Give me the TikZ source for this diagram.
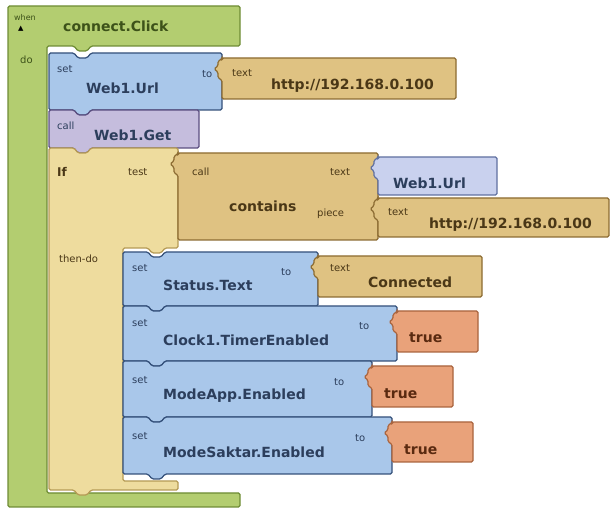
\documentclass[tikz,border=0pt]{standalone}
\usepackage{fontspec}
\setmainfont{DejaVu Sans}
\newfontfamily\symfont{DejaVu Sans}

\definecolor{evgreen}{HTML}{B3CD70}
\definecolor{evedge}{HTML}{6E8C35}
\definecolor{setblue}{HTML}{A9C7EA}
\definecolor{setedge}{HTML}{34507A}
\definecolor{callpurple}{HTML}{C5BDDD}
\definecolor{calledge}{HTML}{5B4E80}
\definecolor{ifbeige}{HTML}{EEDC9E}
\definecolor{ifedge}{HTML}{B59A55}
\definecolor{texttan}{HTML}{DFC282}
\definecolor{tanedge}{HTML}{8C6B32}
\definecolor{getlav}{HTML}{C9D1EE}
\definecolor{getedge}{HTML}{6070A0}
\definecolor{truesalmon}{HTML}{E9A27A}
\definecolor{trueedge}{HTML}{A9643E}
\definecolor{bluetext}{HTML}{2C3E5C}
\definecolor{tantext}{HTML}{4A3716}
\definecolor{greentext}{HTML}{3D5219}
\definecolor{truetext}{HTML}{5A2A10}

% statement block: style, x1, y1, x2, y2 (notch on top, tab below)
\newcommand{\stmtblock}[5]{%
  \draw[#1] (#2,#3) -- ({#2+25},#3) -- ({#2+29},{#3+5}) -- ({#2+38},{#3+5}) -- ({#2+42},#3)
    -- (#4,#3) -- (#4,#5) -- ({#2+42},#5) -- ({#2+38},{#5+5}) -- ({#2+29},{#5+5})
    -- ({#2+25},#5) -- (#2,#5) -- cycle;}
% value block: style, x1, y1, x2, y2 (plug on the left)
\newcommand{\valblock}[5]{%
  \draw[#1] (#2,#3) -- (#4,#3) -- (#4,#5) -- (#2,#5) -- (#2,{#3+22}) -- ({#2-4},{#3+20})
    -- ({#2-4},{#3+14}) -- ({#2-8},{#3+11}) -- ({#2-4},{#3+8}) -- ({#2-4},{#3+3})
    -- (#2,{#3+1}) -- cycle;}

\begin{document}
\begin{tikzpicture}[x=1pt, y=-1pt, every node/.style={inner sep=0pt, anchor=west}]
\tikzstyle{evblk} = [fill=evgreen, draw=evedge, line width=1.2pt, rounded corners=1.5pt]
\tikzstyle{setblk} = [fill=setblue, draw=setedge, line width=1.2pt, rounded corners=1.5pt]
\tikzstyle{callblk} = [fill=callpurple, draw=calledge, line width=1.2pt, rounded corners=1.5pt]
\tikzstyle{ifblk} = [fill=ifbeige, draw=ifedge, line width=1.2pt, rounded corners=1.5pt]
\tikzstyle{textblk} = [fill=texttan, draw=tanedge, line width=1.2pt, rounded corners=1.5pt]
\tikzstyle{getblk} = [fill=getlav, draw=getedge, line width=1.2pt, rounded corners=1.5pt]
\tikzstyle{trueblk} = [fill=truesalmon, draw=trueedge, line width=1.2pt, rounded corners=1.5pt]
\tikzstyle{big} = [font=\fontsize{14}{16}\selectfont\bfseries]
\tikzstyle{small} = [font=\fontsize{10}{12}\selectfont]

\useasboundingbox (0,0) rectangle (611,510);

% Blocks
\draw[evblk] (8,6) -- (240,6) -- (240,46) -- (91,46) -- (87,51) -- (78,51) -- (74,46)
  -- (47,46) -- (47,493) -- (240,493) -- (240,507) -- (8,507) -- cycle;

\stmtblock{setblk}{49}{53}{222}{110}
\valblock{textblk}{222}{58}{456}{99}
\stmtblock{callblk}{49}{110}{199}{148}

\draw[ifblk] (49,148) -- (74,148) -- (78,153) -- (87,153) -- (91,148) -- (178,148)
  -- (178,248) -- (165,248) -- (161,253) -- (152,253) -- (148,248) -- (123,248)
  -- (123,481) -- (178,481) -- (178,490) -- (91,490) -- (87,495) -- (78,495)
  -- (74,490) -- (49,490) -- cycle;

\valblock{textblk}{178}{153}{378}{240}
\valblock{getblk}{378}{157}{497}{195}
\valblock{textblk}{378}{198}{609}{237}

\stmtblock{setblk}{123}{252}{318}{306}
\valblock{textblk}{318}{256}{482}{297}
\stmtblock{setblk}{123}{306}{397}{361}
\valblock{trueblk}{397}{311}{478}{352}
\stmtblock{setblk}{123}{361}{372}{417}
\valblock{trueblk}{372}{366}{453}{407}
\stmtblock{setblk}{123}{417}{392}{474}
\valblock{trueblk}{392}{422}{473}{462}

% Labels
\node (when) [small, font=\fontsize{8}{10}\selectfont, text=greentext] at (14,18) {when};
\node (toggle) [text=black] at (18,29) {\symfont\fontsize{7}{8}\selectfont ▲};
\node (event) [big, text=greentext] at (63,26) {connect.Click};
\node (do) [small, text=greentext] at (20,60) {do};

\node (seturl) [small, text=bluetext] at (57,69) {set};
\node (weburl) [big, text=bluetext] at (86,88) {Web1.Url};
\node (tourl) [small, text=bluetext] at (202,74) {to};
\node (txturl) [small, text=tantext] at (232,73) {text};
\node (urlval) [big, text=tantext] at (271,86) {http://192.168.0.100};

\node (callget) [small, text=bluetext] at (57,126) {call};
\node (webget) [big, text=bluetext] at (94,135) {Web1.Get};

\node (iflbl) [big, font=\fontsize{12}{14}\selectfont\bfseries, text=tantext] at (57,172) {If};
\node (test) [small, text=tantext] at (128,172) {test};
\node (then) [small, text=tantext] at (59,259) {then-do};

\node (callcont) [small, text=tantext] at (192,172) {call};
\node (contains) [big, text=tantext] at (229,206) {contains};
\node (txtlbl) [small, text=tantext] at (330,172) {text};
\node (piece) [small, text=tantext] at (317,214) {piece};
\node (geturl) [big, text=bluetext] at (393,183) {Web1.Url};
\node (txtpiece) [small, text=tantext] at (388,212) {text};
\node (pieceval) [big, text=tantext] at (429,225) {http://192.168.0.100};

\node (setstat) [small, text=bluetext] at (132,268) {set};
\node (status) [big, text=bluetext] at (163,285) {Status.Text};
\node (tostat) [small, text=bluetext] at (281,272) {to};
\node (txtstat) [small, text=tantext] at (330,268) {text};
\node (connected) [big, text=tantext] at (368,282) {Connected};

\node (setclock) [small, text=bluetext] at (132,323) {set};
\node (clock) [big, text=bluetext] at (163,340) {Clock1.TimerEnabled};
\node (toclock) [small, text=bluetext] at (359,326) {to};
\node (trueclock) [big, text=truetext] at (409,338) {true};

\node (setapp) [small, text=bluetext] at (132,380) {set};
\node (modeapp) [big, text=bluetext] at (163,396) {ModeApp.Enabled};
\node (toapp) [small, text=bluetext] at (334,382) {to};
\node (trueapp) [big, text=truetext] at (384,394) {true};

\node (setsak) [small, text=bluetext] at (132,436) {set};
\node (modesak) [big, text=bluetext] at (163,452) {ModeSaktar.Enabled};
\node (tosak) [small, text=bluetext] at (355,438) {to};
\node (truesak) [big, text=truetext] at (404,450) {true};
\end{tikzpicture}
\end{document}
